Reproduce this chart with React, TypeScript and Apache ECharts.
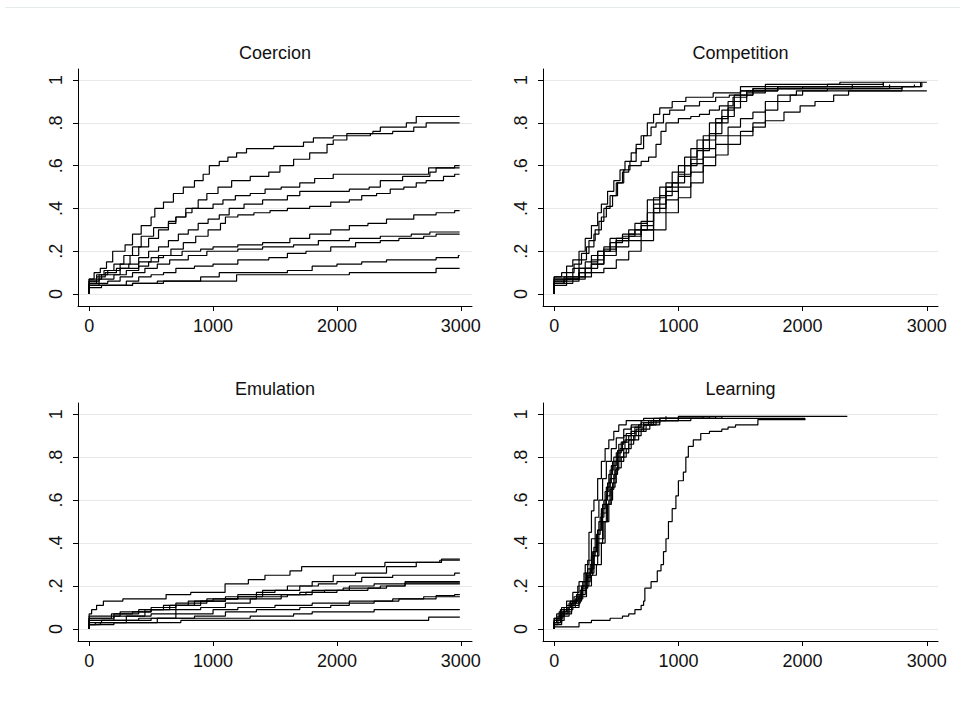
import React, { useEffect, useRef } from 'react';
import * as echarts from 'echarts';

const panelTitles = ['Coercion', 'Competition', 'Emulation', 'Learning'];
const xTickValues = [0, 1000, 2000, 3000];
const xTickLabels = ['0', '1000', '2000', '3000'];
const yTickValues = [0, 0.2, 0.4, 0.6, 0.8, 1];
const yTickLabels = ['0', '.2', '.4', '.6', '.8', '1'];

// Each line: [x, value from x onward] (stairstep)
const coercion: number[][][] = [
  [[0,0],[0,0.07],[40,0.1],[90,0.12],[140,0.15],[190,0.2],[290,0.23],[350,0.28],[420,0.32],[500,0.36],[530,0.4],[600,0.43],[680,0.47],[760,0.5],[850,0.53],[920,0.56],[970,0.6],[1050,0.62],[1120,0.64],[1190,0.66],[1270,0.68],[1490,0.69],[1730,0.71],[1810,0.73],[1970,0.74],[2080,0.75],[2290,0.76],[2350,0.78],[2560,0.8],[2640,0.83],[2990,0.83]],
  [[0,0],[0,0.06],[60,0.09],[120,0.11],[200,0.14],[280,0.18],[350,0.22],[420,0.27],[520,0.31],[640,0.33],[700,0.36],[780,0.4],[880,0.44],[950,0.47],[1040,0.5],[1150,0.53],[1300,0.55],[1450,0.57],[1540,0.6],[1650,0.63],[1780,0.66],[1920,0.7],[1970,0.72],[2080,0.74],[2270,0.75],[2450,0.76],[2620,0.78],[2720,0.8],[2990,0.8]],
  [[0,0],[0,0.06],[80,0.09],[150,0.11],[250,0.14],[330,0.18],[400,0.22],[480,0.26],[560,0.3],[640,0.34],[700,0.36],[780,0.38],[830,0.4],[1000,0.42],[1080,0.44],[1180,0.46],[1300,0.47],[1420,0.49],[1550,0.5],[1700,0.52],[1820,0.54],[1970,0.56],[2690,0.56],[2740,0.59],[2950,0.6],[2990,0.6]],
  [[0,0],[0,0.05],[60,0.08],[130,0.1],[220,0.12],[320,0.14],[400,0.17],[480,0.2],[560,0.22],[640,0.25],[720,0.28],[800,0.3],[880,0.33],[960,0.35],[1050,0.37],[1130,0.4],[1250,0.42],[1400,0.44],[1600,0.46],[1700,0.48],[2100,0.49],[2260,0.5],[2350,0.53],[2530,0.55],[2750,0.57],[2800,0.59],[2990,0.59]],
  [[0,0],[0,0.04],[80,0.07],[200,0.09],[300,0.11],[400,0.13],[480,0.15],[560,0.18],[660,0.21],[760,0.24],[860,0.27],[960,0.3],[1060,0.33],[1100,0.36],[1200,0.37],[1330,0.38],[1460,0.39],[1600,0.4],[1780,0.41],[1950,0.43],[2100,0.44],[2200,0.46],[2320,0.47],[2430,0.49],[2540,0.5],[2640,0.52],[2720,0.53],[2860,0.55],[2950,0.56],[2990,0.56]],
  [[0,0],[0,0.07],[100,0.09],[250,0.12],[400,0.15],[500,0.17],[600,0.18],[750,0.2],[900,0.21],[1000,0.22],[1200,0.23],[1400,0.24],[1620,0.26],[1780,0.28],[1950,0.3],[2100,0.32],[2250,0.33],[2400,0.35],[2620,0.37],[2800,0.38],[2950,0.39],[2990,0.39]],
  [[0,0],[0,0.05],[150,0.06],[250,0.08],[350,0.1],[450,0.12],[550,0.14],[650,0.16],[800,0.18],[950,0.2],[1200,0.21],[1400,0.22],[1650,0.23],[1850,0.25],[2100,0.26],[2350,0.27],[2600,0.28],[2750,0.29],[2990,0.29]],
  [[0,0],[0,0.04],[300,0.06],[400,0.08],[500,0.09],[600,0.1],[700,0.12],[850,0.13],[1000,0.14],[1200,0.16],[1450,0.17],[1600,0.19],[1750,0.2],[1950,0.22],[2150,0.24],[2350,0.25],[2500,0.26],[2700,0.27],[2800,0.28],[2990,0.28]],
  [[0,0],[0,0.03],[100,0.04],[350,0.05],[550,0.06],[900,0.08],[1050,0.1],[1600,0.11],[1800,0.13],[2000,0.14],[2200,0.15],[2400,0.16],[2800,0.17],[2980,0.18],[2990,0.18]],
  [[0,0],[0,0.04],[350,0.05],[600,0.06],[1190,0.09],[2100,0.1],[2800,0.12],[2990,0.12]],
];

const competition: number[][][] = [
  [[0,0],[0,0.08],[60,0.1],[100,0.13],[150,0.16],[200,0.2],[250,0.26],[300,0.32],[350,0.38],[380,0.42],[430,0.48],[480,0.53],[530,0.58],[570,0.62],[620,0.66],[660,0.7],[700,0.74],[750,0.8],[800,0.84],[850,0.87],[950,0.9],[1060,0.92],[1280,0.94],[1500,0.97],[1700,0.98],[2300,0.99],[3000,0.99]],
  [[0,0],[0,0.05],[80,0.08],[150,0.12],[200,0.16],[260,0.22],[320,0.28],[360,0.34],[400,0.4],[450,0.46],[500,0.52],[560,0.58],[610,0.62],[660,0.68],[720,0.74],[780,0.78],[820,0.8],[880,0.84],[930,0.86],[1050,0.88],[1170,0.9],[1300,0.92],[1410,0.93],[1500,0.95],[1800,0.97],[2650,0.99]],
  [[0,0],[0,0.07],[100,0.1],[160,0.14],[220,0.19],[280,0.25],[330,0.3],[380,0.36],[420,0.41],[470,0.46],[510,0.52],[550,0.57],[600,0.6],[700,0.62],[760,0.64],[820,0.7],[860,0.76],[900,0.8],[1000,0.82],[1100,0.83],[1170,0.84],[1250,0.86],[1330,0.88],[1440,0.92],[1550,0.95],[1700,0.97],[2900,0.98]],
  [[0,0],[0,0.04],[100,0.06],[200,0.08],[300,0.1],[400,0.12],[500,0.16],[600,0.2],[700,0.25],[800,0.3],[900,0.38],[1000,0.45],[1100,0.52],[1200,0.6],[1300,0.65],[1400,0.7],[1500,0.74],[1600,0.78],[1700,0.81],[1850,0.85],[1980,0.88],[2100,0.9],[2250,0.93],[2370,0.95],[3000,0.95]],
  [[0,0],[0,0.05],[80,0.07],[200,0.1],[300,0.14],[400,0.18],[500,0.22],[600,0.25],[700,0.3],[800,0.38],[900,0.44],[1000,0.5],[1100,0.57],[1200,0.64],[1300,0.7],[1400,0.74],[1500,0.76],[1600,0.8],[1700,0.86],[1800,0.9],[1900,0.93],[2000,0.95],[2200,0.96],[2800,0.97],[2960,0.99]],
  [[0,0],[0,0.06],[100,0.07],[200,0.12],[300,0.18],[400,0.21],[500,0.25],[600,0.27],[700,0.3],[800,0.4],[900,0.48],[1000,0.55],[1100,0.63],[1200,0.72],[1300,0.8],[1400,0.87],[1500,0.93],[1600,0.96],[2700,0.98]],
  [[0,0],[0,0.05],[150,0.08],[250,0.15],[350,0.2],[450,0.24],[550,0.27],[650,0.3],[750,0.38],[850,0.46],[950,0.52],[1050,0.6],[1150,0.67],[1250,0.75],[1350,0.83],[1450,0.9],[1550,0.94],[1700,0.96],[2400,0.98]],
  [[0,0],[0,0.07],[150,0.07],[250,0.12],[350,0.2],[450,0.26],[550,0.28],[650,0.33],[750,0.44],[850,0.5],[950,0.57],[1050,0.64],[1150,0.72],[1250,0.8],[1350,0.86],[1450,0.93],[1600,0.96],[2000,0.97],[2950,0.99]],
  [[0,0],[0,0.06],[100,0.07],[200,0.1],[300,0.14],[400,0.2],[500,0.25],[600,0.28],[700,0.32],[800,0.45],[900,0.52],[1000,0.6],[1100,0.68],[1200,0.74],[1300,0.82],[1400,0.9],[1500,0.95],[1800,0.97],[2200,0.98],[2650,0.99]],
  [[0,0],[0,0.08],[100,0.08],[200,0.12],[300,0.16],[400,0.22],[500,0.26],[600,0.3],[700,0.34],[800,0.42],[900,0.5],[1000,0.56],[1100,0.61],[1200,0.68],[1300,0.74],[1400,0.78],[1500,0.82],[1600,0.85],[1700,0.9],[1800,0.93],[1950,0.95],[2800,0.97]],
];

const emulation: number[][][] = [
  [[0,0],[0,0.07],[20,0.09],[60,0.11],[115,0.13],[272,0.14],[621,0.16],[820,0.17],[1097,0.21],[1285,0.23],[1419,0.25],[1621,0.27],[1715,0.29],[2387,0.31],[2844,0.325],[2992,0.325]],
  [[0,0],[0,0.05],[100,0.05],[200,0.07],[400,0.09],[600,0.11],[800,0.13],[1000,0.14],[1200,0.16],[1400,0.18],[1600,0.2],[1800,0.22],[1970,0.25],[2150,0.26],[2400,0.29],[2640,0.31],[2830,0.32],[2992,0.32]],
  [[0,0],[0,0.04],[200,0.06],[450,0.09],[700,0.11],[900,0.13],[1100,0.15],[1350,0.17],[1500,0.18],[1700,0.2],[1850,0.21],[2000,0.22],[2200,0.24],[2450,0.25],[2950,0.26],[2992,0.26]],
  [[0,0],[0,0.05],[180,0.07],[350,0.08],[500,0.1],[700,0.12],[950,0.14],[1200,0.15],[1400,0.16],[1700,0.17],[1900,0.18],[2100,0.2],[2300,0.21],[2550,0.22],[2992,0.22]],
  [[0,0],[0,0.03],[100,0.04],[300,0.06],[500,0.07],[700,0.09],[900,0.1],[1100,0.12],[1300,0.14],[1550,0.16],[1750,0.17],[2000,0.18],[2250,0.19],[2400,0.2],[2550,0.21],[2992,0.21]],
  [[0,0],[0,0.06],[250,0.08],[500,0.09],[650,0.11],[850,0.13],[1100,0.14],[1350,0.15],[1600,0.16],[1800,0.18],[2050,0.19],[2350,0.2],[2550,0.215],[2992,0.215]],
  [[0,0],[0,0.02],[50,0.03],[300,0.04],[500,0.05],[850,0.06],[1100,0.08],[1350,0.09],[1700,0.1],[1950,0.11],[2100,0.12],[2300,0.13],[2500,0.14],[2800,0.155],[2950,0.16],[2992,0.16]],
  [[0,0],[0,0.04],[400,0.05],[700,0.07],[1000,0.09],[1200,0.1],[1500,0.11],[1800,0.12],[2100,0.13],[2450,0.14],[2700,0.15],[2992,0.15]],
  [[0,0],[0,0.02],[200,0.03],[550,0.05],[1300,0.06],[1650,0.07],[1800,0.08],[2300,0.09],[2992,0.09]],
  [[0,0],[0,0.02],[90,0.03],[300,0.03],[740,0.04],[2740,0.055],[2992,0.055]],
];

const learning: number[][][] = [
  [[0,0],[0,0.03],[20,0.07],[60,0.1],[100,0.13],[150,0.17],[200,0.22],[250,0.3],[280,0.45],[300,0.55],[320,0.6],[350,0.7],[380,0.78],[410,0.84],[440,0.88],[480,0.92],[520,0.95],[580,0.97],[720,0.98],[900,0.99]],
  [[0,0],[0,0.02],[30,0.06],[80,0.1],[130,0.13],[190,0.2],[240,0.26],[270,0.32],[300,0.42],[330,0.52],[360,0.6],[390,0.7],[420,0.78],[460,0.84],[500,0.89],[560,0.93],[620,0.95],[700,0.97],[850,0.98],[1350,0.99]],
  [[0,0],[0,0.04],[40,0.08],[100,0.11],[160,0.15],[220,0.2],[260,0.26],[300,0.34],[330,0.42],[360,0.5],[390,0.58],[420,0.66],[450,0.74],[480,0.8],[520,0.86],[560,0.9],[620,0.94],[700,0.96],[800,0.98],[1250,0.99]],
  [[0,0],[0,0.05],[50,0.09],[120,0.12],[180,0.16],[230,0.22],[270,0.28],[310,0.36],[340,0.44],[370,0.52],[400,0.6],[430,0.68],[460,0.76],[500,0.82],[540,0.87],[580,0.91],[650,0.94],[720,0.96],[850,0.98],[1200,0.99]],
  [[0,0],[0,0.02],[60,0.06],[120,0.1],[200,0.16],[250,0.22],[290,0.3],[320,0.38],[350,0.46],[380,0.54],[420,0.62],[450,0.7],[490,0.78],[530,0.84],[570,0.88],[620,0.92],[680,0.95],[760,0.97],[900,0.98],[1000,0.99],[2360,0.99]],
  [[0,0],[0,0.03],[50,0.07],[110,0.1],[170,0.14],[230,0.2],[280,0.26],[320,0.34],[360,0.42],[400,0.5],[430,0.58],[460,0.66],[490,0.74],[520,0.8],[560,0.84],[600,0.88],[650,0.92],[720,0.95],[800,0.97],[1000,0.98],[1300,0.99]],
  [[0,0],[0,0.05],[70,0.08],[140,0.11],[200,0.15],[260,0.2],[300,0.25],[340,0.3],[380,0.4],[410,0.5],[440,0.6],[470,0.68],[500,0.75],[540,0.8],[580,0.84],[620,0.88],[680,0.92],[740,0.95],[820,0.97],[1100,0.98]],
  [[0,0],[0,0.03],[60,0.07],[140,0.12],[210,0.18],[260,0.24],[290,0.28],[320,0.36],[350,0.46],[380,0.56],[410,0.64],[440,0.72],[470,0.78],[510,0.83],[550,0.87],[600,0.9],[660,0.93],[720,0.95],[780,0.97],[850,0.98]],
  [[0,0],[0,0.04],[80,0.09],[150,0.13],[220,0.19],[270,0.25],[310,0.3],[350,0.4],[390,0.5],[420,0.58],[450,0.65],[480,0.72],[510,0.78],[560,0.82],[600,0.86],[640,0.9],[700,0.93],[770,0.95],[850,0.97],[1000,0.98],[2020,0.98]],
  [[0,0],[0,0.01],[180,0.01],[200,0.03],[300,0.04],[450,0.05],[550,0.06],[600,0.07],[650,0.09],[700,0.11],[720,0.13],[730,0.19],[780,0.22],[830,0.27],[860,0.3],[880,0.36],[900,0.42],[920,0.5],[950,0.56],[980,0.62],[1000,0.69],[1040,0.73],[1060,0.8],[1080,0.85],[1120,0.88],[1180,0.91],[1250,0.92],[1350,0.93],[1400,0.94],[1460,0.95],[1640,0.975],[2020,0.98]],
];

const panelData = [coercion, competition, emulation, learning];

const FONT = '"Liberation Sans", Arial, Helvetica, sans-serif';
const TEXT = '#111';

export default function App() {
  const ref = useRef<HTMLDivElement>(null);
  useEffect(() => {
    if (!ref.current) return;
    const chart = echarts.init(ref.current, undefined, { renderer: 'svg' });
    const grids = [
      { left: 78, top: 69, width: 394, height: 237 },
      { left: 543, top: 69, width: 395, height: 237 },
      { left: 78, top: 403, width: 394, height: 238 },
      { left: 543, top: 403, width: 395, height: 238 },
    ];
    const titlePos = [
      [275, 53],
      [740.5, 53],
      [275, 389],
      [740.5, 389],
    ];
    const xAxis = grids.map((_, i) => ({
      type: 'value',
      gridIndex: i,
      min: -90,
      max: 3090,
      axisLine: { show: true, onZero: false, lineStyle: { color: '#000', width: 1 } },
      axisTick: { show: true, length: 5, customValues: xTickValues, lineStyle: { color: '#000', width: 1 } },
      axisLabel: {
        customValues: xTickValues,
        formatter: (v: number) => xTickLabels[xTickValues.indexOf(v)] ?? String(v),
        fontSize: 18,
        color: TEXT,
        fontFamily: FONT,
        margin: 11,
      },
      splitLine: { show: false },
    }));
    const yAxis = grids.map((_, i) => ({
      type: 'value',
      gridIndex: i,
      min: -0.056,
      max: 1.052,
      axisLine: { show: true, onZero: false, lineStyle: { color: '#000', width: 1 } },
      axisTick: { show: true, length: 5, customValues: yTickValues, lineStyle: { color: '#000', width: 1 } },
      axisLabel: {
        customValues: yTickValues,
        rotate: 90,
        formatter: (v: number) => {
          const idx = yTickValues.findIndex((t) => Math.abs(t - v) < 1e-6);
          return idx >= 0 ? yTickLabels[idx] : '';
        },
        fontSize: 18,
        color: TEXT,
        fontFamily: FONT,
        margin: 13,
      },
      splitLine: { show: true, lineStyle: { color: '#e8e8e8', width: 1 } },
    }));
    const series = panelData.flatMap((lines, p) =>
      lines.map((data, k) => ({
        type: 'line',
        name: `${panelTitles[p]} ${k + 1}`,
        xAxisIndex: p,
        yAxisIndex: p,
        data,
        step: 'end',
        showSymbol: false,
        symbol: 'none',
        silent: true,
        lineStyle: { color: '#000', width: 1.2 },
        z: 3,
      }))
    );
    chart.setOption({
      animation: false,
      backgroundColor: '#ffffff',
      grid: grids,
      xAxis,
      yAxis,
      series,
      graphic: [
        {
          type: 'line',
          silent: true,
          shape: { x1: 5, y1: 7.5, x2: 960, y2: 7.5 },
          style: { stroke: '#e4ebe7', lineWidth: 1 },
        },
        ...panelTitles.map((t, i) => ({
          type: 'text',
          silent: true,
          x: titlePos[i][0],
          y: titlePos[i][1],
          style: {
            text: t,
            fill: TEXT,
            fontSize: 18,
            fontFamily: FONT,
            textAlign: 'center',
            textVerticalAlign: 'middle',
            align: 'center',
            verticalAlign: 'middle',
          },
        })),
      ],
    });
    return () => chart.dispose();
  }, []);
  return (
    <div
      ref={ref}
      style={{ position: 'fixed', left: 0, top: 0, width: 960, height: 702, background: '#fff' }}
    />
  );
}
